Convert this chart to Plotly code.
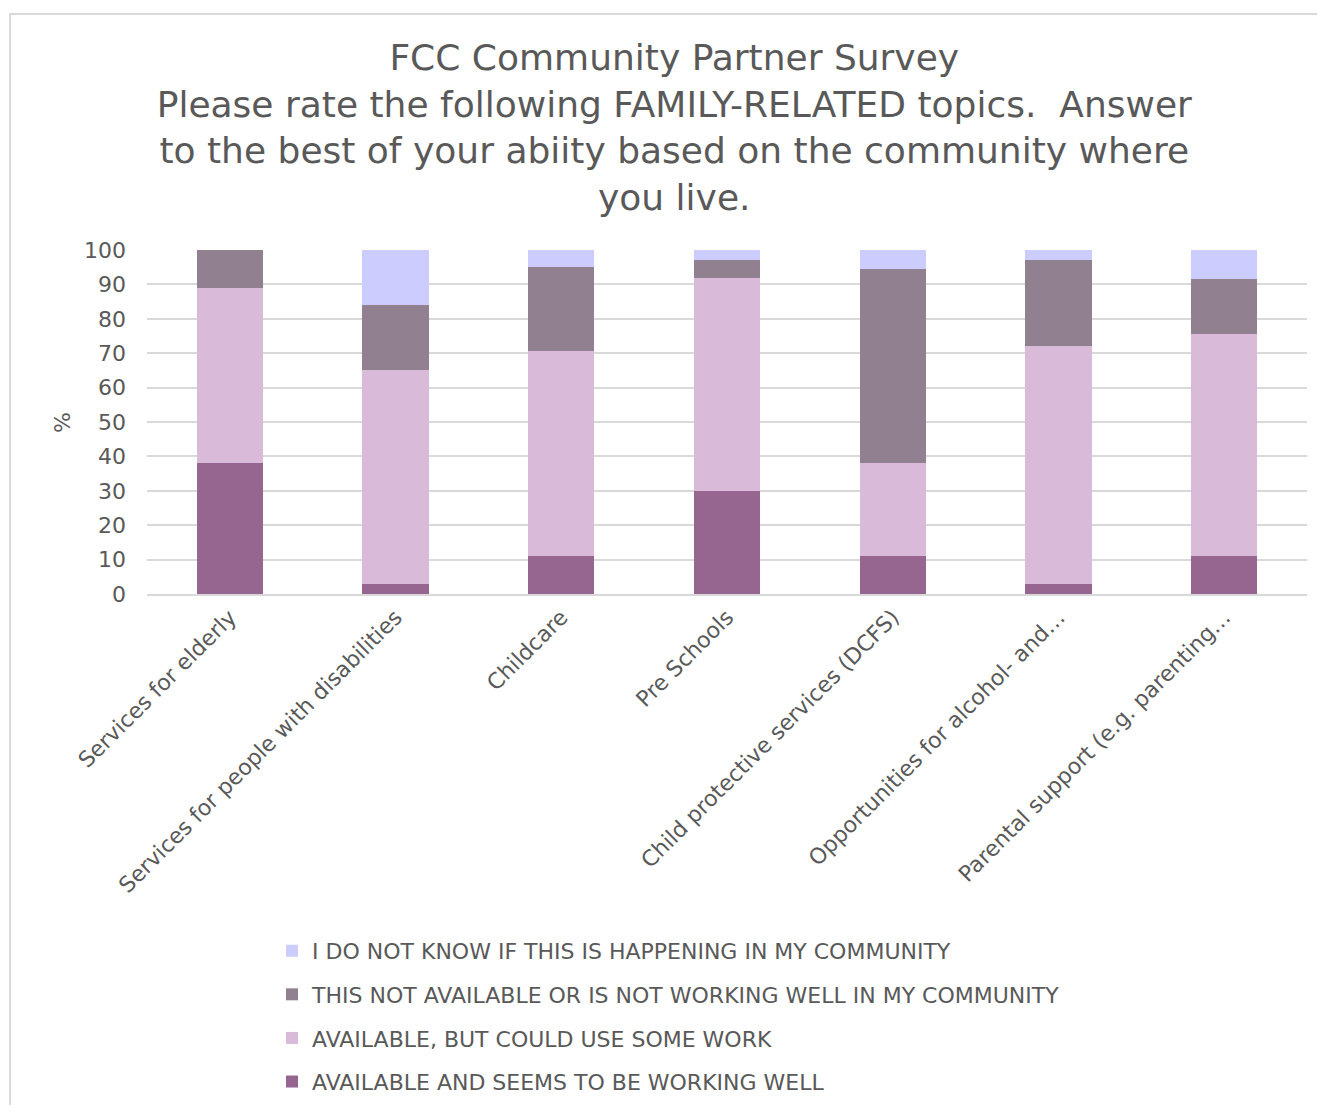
import plotly.graph_objects as go

categories = [
    "Services for elderly",
    "Services for people with disabilities",
    "Childcare",
    "Pre Schools",
    "Child protective services (DCFS)",
    "Opportunities for alcohol- and…",
    "Parental support (e.g. parenting…",
]
working_well = [38, 3, 11, 30, 11, 3, 11]
could_use_work = [51, 62, 59.5, 62, 27, 69, 64.5]
not_available = [11, 19, 24.5, 5, 56.5, 25, 16]
do_not_know = [0, 16, 5, 3, 5.5, 3, 8.5]

series_names = [
    "AVAILABLE AND SEEMS TO BE WORKING WELL",
    "AVAILABLE, BUT COULD USE SOME WORK",
    "THIS NOT AVAILABLE OR IS NOT WORKING WELL IN MY COMMUNITY",
    "I DO NOT KNOW IF THIS IS HAPPENING IN MY COMMUNITY",
]
series_values = [working_well, could_use_work, not_available, do_not_know]
colors = ["#976690", "#d9bad9", "#918090", "#ccccff"]

FONT = "DejaVu Sans"
GRAY = "#595959"

fig = go.Figure()
for i, (name, vals, col) in enumerate(zip(series_names, series_values, colors)):
    fig.add_trace(go.Bar(
        x=categories, y=vals, name=name, marker_color=col,
        marker_line_width=0, legendgroup=f"g{i}", legendrank=10 - i,
    ))

fig.update_layout(
    width=1309, height=1097,
    barmode="stack", bargap=0.6,
    paper_bgcolor="white", plot_bgcolor="white",
    margin=dict(l=139, r=10, t=242, b=511, autoexpand=False),
    font=dict(family=FONT, color=GRAY),
    title=dict(
        text="FCC Community Partner Survey<br>Please rate the following FAMILY-RELATED topics.  Answer<br>to the best of your abiity based on the community where<br>you live.",
        x=0.509, xanchor="center", xref="container", y=0.9437, yanchor="top",
        font=dict(family=FONT, size=36, color=GRAY),
    ),
    xaxis=dict(
        tickangle=-45, tickfont=dict(size=22, color=GRAY), automargin=False,
        showline=True, linecolor="#d9d9d9", linewidth=1.5, ticks="",
    ),
    yaxis=dict(
        range=[0, 100], dtick=10, tickfont=dict(size=22, color=GRAY),
        gridcolor="#d9d9d9", gridwidth=1.5, zeroline=False, automargin=False,
        ticklabelstandoff=20,
    ),
    annotations=[dict(
        text="%", xref="paper", yref="paper", x=-0.0733, y=0.5,
        xanchor="center", yanchor="middle", textangle=-90, showarrow=False,
        font=dict(size=22, color=GRAY),
    )],
    legend=dict(
        orientation="v", traceorder="grouped", tracegroupgap=12,
        xref="container", yref="container",
        x=0.2017, xanchor="left", y=0.1596, yanchor="top",
        font=dict(size=22, color=GRAY), itemwidth=30,
    ),
    shapes=[dict(
        type="rect", xref="paper", yref="paper",
        x0=-0.118, x1=1.02, y0=-1.6, y1=1.686,
        line=dict(color="#d9d9d9", width=2), layer="below",
    )],
)

fig.write_html("out.html")
